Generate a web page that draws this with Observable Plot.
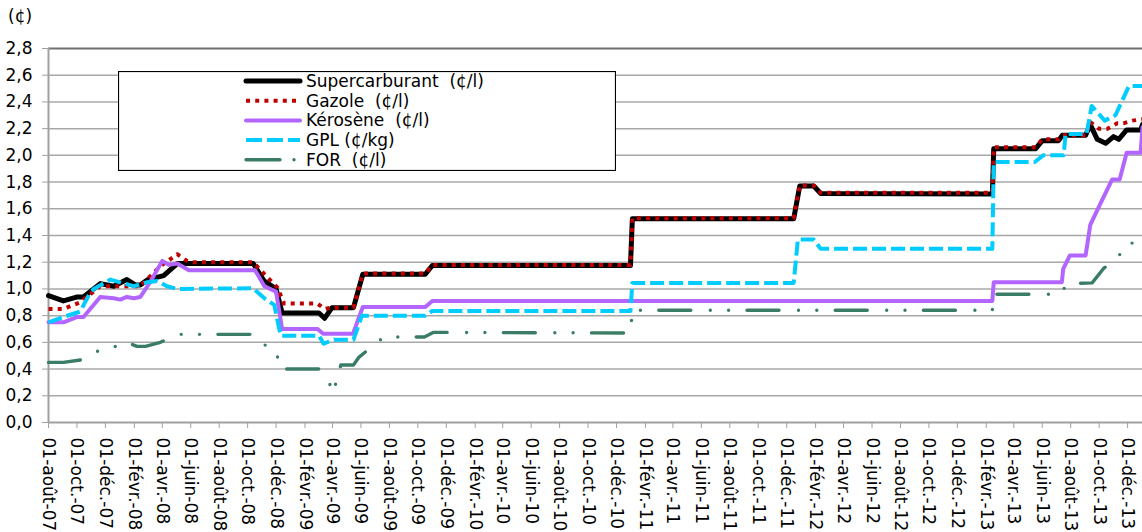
<!DOCTYPE html>
<html><head><meta charset="utf-8">
<script src="https://cdn.jsdelivr.net/npm/d3@7"></script>
<script src="https://cdn.jsdelivr.net/npm/@observablehq/plot@0.6"></script>
<style>
body{margin:0;background:#fff;font-family:"DejaVu Sans",Verdana,sans-serif;}
#wrap{position:relative;width:1142px;height:532px;overflow:hidden;}
#unit{position:absolute;left:8px;top:6px;font-size:17px;color:#000;}
#legend{position:absolute;left:118px;top:71px;}
#legend text{white-space:pre;}
</style></head><body>
<div id="wrap"><div id="chart"></div><div id="unit">(¢)</div><svg id="legend" width="498" height="100"></svg></div>
<script>
const unitLabel = "(¢)";
const seriesNames = ["Supercarburant  (¢/l)", "Gazole  (¢/l)", "Kérosène  (¢/l)", "GPL (¢/kg)", "FOR  (¢/l)"];
const seriesColors = ["#000000", "#c00000", "#b266ff", "#00ccff", "#3a7d64"];
const monthsFr = ["janv.", "févr.", "mars", "avr.", "mai", "juin", "juil.", "août", "sept.", "oct.", "nov.", "déc."];
const yTicks = [0, 0.2, 0.4, 0.6, 0.8, 1.0, 1.2, 1.4, 1.6, 1.8, 2.0, 2.2, 2.4, 2.6, 2.8];
const xStart = "2007-08-01", xEnd = "2014-01-02";

const supercarburant = [["2007-08-01",0.95],["2007-09-02",0.91],["2007-10-02",0.94],["2007-10-15",0.94],["2007-11-20",1.04],["2007-12-19",1.02],["2008-01-16",1.07],["2008-02-03",1.03],["2008-02-14",1.03],["2008-03-01",1.07],["2008-04-04",1.10],["2008-05-03",1.19],["2008-10-13",1.19],["2008-11-05",1.06],["2008-12-01",1.00],["2008-12-14",0.82],["2009-03-03",0.82],["2009-03-15",0.78],["2009-03-31",0.86],["2009-05-16",0.86],["2009-06-05",1.11],["2009-10-17",1.11],["2009-11-01",1.175],["2010-12-31",1.175],["2011-01-04",1.525],["2011-12-16",1.525],["2011-12-29",1.77],["2012-01-28",1.77],["2012-02-12",1.715],["2013-02-14",1.71],["2013-02-17",2.05],["2013-05-18",2.05],["2013-06-01",2.11],["2013-07-06",2.11],["2013-07-14",2.15],["2013-09-02",2.15],["2013-09-12",2.23],["2013-09-27",2.12],["2013-10-15",2.09],["2013-11-01",2.14],["2013-11-12",2.12],["2013-11-29",2.19],["2013-12-29",2.19],["2014-01-02",2.23]];
const gazole = [["2007-08-01",0.85],["2007-09-02",0.85],["2007-10-08",0.90],["2007-11-20",1.02],["2008-02-14",1.02],["2008-02-29",1.075],["2008-03-28",1.17],["2008-05-03",1.26],["2008-05-24",1.21],["2008-06-01",1.20],["2008-10-13",1.20],["2008-11-06",1.11],["2008-12-04",1.01],["2008-12-18",0.89],["2009-02-28",0.89],["2009-03-15",0.85],["2009-03-28",0.86],["2009-05-16",0.86],["2009-06-05",1.115],["2009-10-17",1.115],["2009-11-01",1.18],["2010-12-31",1.18],["2011-01-04",1.53],["2011-12-16",1.53],["2011-12-29",1.775],["2012-01-28",1.775],["2012-02-12",1.72],["2013-02-14",1.72],["2013-02-17",2.06],["2013-05-18",2.06],["2013-06-01",2.12],["2013-07-06",2.12],["2013-07-14",2.15],["2013-09-02",2.15],["2013-09-12",2.25],["2013-09-30",2.20],["2013-10-19",2.20],["2013-11-09",2.24],["2013-11-22",2.24],["2013-12-11",2.26],["2014-01-02",2.27]];
const kerosene = [["2007-08-01",0.75],["2007-09-02",0.75],["2007-10-02",0.79],["2007-10-15",0.79],["2007-11-20",0.94],["2007-12-19",0.93],["2008-01-02",0.92],["2008-01-16",0.94],["2008-01-31",0.93],["2008-02-14",0.94],["2008-03-06",1.05],["2008-04-01",1.21],["2008-04-15",1.18],["2008-05-03",1.19],["2008-05-28",1.14],["2008-10-17",1.14],["2008-11-06",1.02],["2008-12-01",0.98],["2008-12-14",0.70],["2009-02-28",0.70],["2009-03-12",0.665],["2009-05-15",0.665],["2009-06-05",0.865],["2009-10-17",0.865],["2009-11-01",0.91],["2013-02-14",0.91],["2013-02-17",1.05],["2013-07-13",1.05],["2013-07-16",1.15],["2013-07-30",1.25],["2013-09-02",1.25],["2013-09-12",1.48],["2013-10-04",1.64],["2013-10-29",1.82],["2013-11-14",1.82],["2013-11-29",2.02],["2013-12-29",2.02],["2014-01-02",2.21]];
const gpl = [["2007-08-01",0.75],["2007-09-02",0.79],["2007-10-08",0.83],["2007-10-26",0.95],["2007-11-06",1.00],["2007-12-12",1.07],["2008-01-31",1.02],["2008-02-29",1.05],["2008-03-21",1.06],["2008-04-11",1.02],["2008-05-03",1.00],["2008-10-13",1.005],["2008-11-06",0.93],["2008-11-27",0.88],["2008-12-11",0.65],["2009-03-03",0.65],["2009-03-13",0.59],["2009-04-04",0.62],["2009-05-16",0.62],["2009-06-03",0.80],["2009-10-17",0.80],["2009-11-01",0.835],["2010-12-31",0.835],["2011-01-04",1.045],["2011-12-16",1.045],["2011-12-25",1.37],["2012-01-28",1.37],["2012-02-12",1.30],["2013-02-14",1.30],["2013-02-17",1.95],["2013-05-16",1.95],["2013-06-03",2.00],["2013-07-17",2.00],["2013-07-21",2.16],["2013-09-04",2.16],["2013-09-15",2.37],["2013-10-13",2.26],["2013-11-05",2.30],["2013-12-04",2.52],["2014-01-02",2.52]];
const fuelOil = [["2007-08-01",0.45],["2007-09-02",0.45],["2007-10-12",0.47],["2007-11-10",0.53],["2007-12-15",0.56],["2008-01-16",0.60],["2008-02-07",0.57],["2008-02-25",0.57],["2008-03-28",0.60],["2008-05-01",0.66],["2008-10-13",0.66],["2008-10-29",0.60],["2008-12-01",0.53],["2008-12-11",0.40],["2009-03-03",0.40],["2009-03-21",0.33],["2009-04-03",0.22],["2009-04-12",0.35],["2009-04-19",0.43],["2009-05-16",0.43],["2009-05-28",0.49],["2009-06-22",0.56],["2009-07-20",0.64],["2009-10-15",0.64],["2009-11-04",0.675],["2010-12-31",0.67],["2011-01-04",0.84],["2013-02-14",0.84],["2013-02-17",0.96],["2013-07-06",0.96],["2013-07-14",0.99],["2013-07-28",1.04],["2013-09-16",1.045],["2013-10-11",1.155],["2013-11-09",1.23],["2013-11-30",1.34],["2014-01-02",1.35]];

const seriesData = [supercarburant, gazole, kerosene, gpl, fuelOil];
const seriesStyles = [
  {strokeWidth: 5, strokeDasharray: null, strokeLinecap: "round"},
  {strokeWidth: 4, strokeDasharray: "4,5.2", strokeLinecap: "butt"},
  {strokeWidth: 4, strokeDasharray: null, strokeLinecap: "round"},
  {strokeWidth: 4, strokeDasharray: "14,5", strokeLinecap: "butt"},
  {strokeWidth: 3.4, strokeDasharray: "32,19.5,0,18.3,0,18.4", strokeLinecap: "round"}
];

const parse = s => new Date(s + "T00:00:00Z");
const rows = seriesData.flatMap((arr, i) => arr.map(([d, v]) => ({series: seriesNames[i], date: parse(d), value: v})));
const tickDates = d3.utcMonth.range(parse(xStart), parse(xEnd), 2);
const fmtX = d => `01-${monthsFr[d.getUTCMonth()]}-${String(d.getUTCFullYear()).slice(2)}`;
const fmtY = d => d.toFixed(1).replace(".", ",");

const lineMarks = seriesNames.map((name, i) => Plot.line(rows.filter(r => r.series === name), {
  x: "date", y: "value", stroke: seriesColors[i], strokeWidth: seriesStyles[i].strokeWidth,
  strokeDasharray: seriesStyles[i].strokeDasharray || undefined,
  strokeLinecap: seriesStyles[i].strokeLinecap, strokeLinejoin: "round"
}));

const chart = Plot.plot({
  width: 1142, height: 532,
  marginLeft: 48, marginTop: 48, marginBottom: 110, marginRight: 0,
  style: {fontFamily: "DejaVu Sans, Verdana, sans-serif", fontSize: "17px", background: "#fff", color: "#000", overflow: "visible"},
  x: {type: "utc", domain: [parse(xStart), parse(xEnd)]},
  y: {domain: [0, 2.8]},
  marks: [
    Plot.ruleY(yTicks.filter(t => t > 0 && t < 2.8), {stroke: "#a8a8a8", strokeWidth: 1.5}),
    Plot.ruleY([2.8], {stroke: "#707070", strokeWidth: 2}),
    Plot.ruleY([0], {stroke: "#a0a0a0", strokeWidth: 2}),
    Plot.ruleX([parse(xStart)], {stroke: "#a0a0a0", strokeWidth: 2}),
    Plot.axisY({ticks: yTicks, tickFormat: fmtY, tickSize: 6, tickPadding: 10, stroke: "#a0a0a0", fill: "#000", label: null}),
    Plot.axisX({ticks: tickDates, tickFormat: fmtX, tickSize: 6, tickPadding: 9, tickRotate: 90, stroke: "#a0a0a0", fill: "#000", label: null}),
    ...lineMarks
  ]
});
document.getElementById("chart").appendChild(chart);
document.getElementById("unit").textContent = unitLabel;

// legend
const lg = d3.select("#legend");
lg.append("rect").attr("x", 0.5).attr("y", 0.5).attr("width", 497).attr("height", 99)
  .attr("fill", "#fff").attr("stroke", "#000").attr("stroke-width", 1.2);
seriesNames.forEach((name, i) => {
  const yy = 10 + i * 19.7;
  const st = seriesStyles[i];
  lg.append("line").attr("x1", 128).attr("x2", 182).attr("y1", yy).attr("y2", yy)
    .attr("stroke", seriesColors[i]).attr("stroke-width", st.strokeWidth)
    .attr("stroke-dasharray", i === 4 ? "34,14,0,100" : (i === 3 ? "16,5" : st.strokeDasharray))
    .attr("stroke-linecap", st.strokeLinecap);
  lg.append("text").attr("x", 188).attr("y", yy).attr("dy", "0.35em")
    .attr("font-size", 17).attr("font-family", "DejaVu Sans, Verdana, sans-serif")
    .attr("fill", "#000").text(name);
});
</script>
</body></html>
